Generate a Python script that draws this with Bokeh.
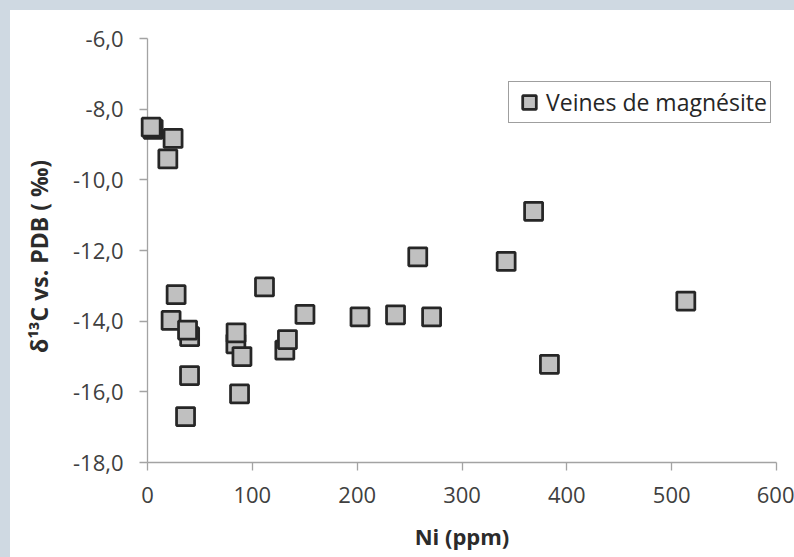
from bokeh.plotting import figure
from bokeh.models import Range1d, FixedTicker, GlobalInlineStyleSheet
from bokeh.embed import file_html
from bokeh.resources import INLINE

# Data
ni_ppm = [5.4, 3.5, 24.4, 19.4, 27.3, 22.5, 40.2, 38.2, 84.3, 84.5, 90.1, 40.1, 87.8,
          36.3, 111.6, 131.0, 133.5, 150.2, 202.7, 236.6, 257.8, 271.0, 342.1, 368.3,
          383.4, 513.5]
delta13c = [-8.57, -8.51, -8.83, -9.41, -13.25, -13.98, -14.44, -14.25, -14.64, -14.33,
            -15.0, -15.54, -16.06, -16.7, -13.03, -14.82, -14.52, -13.81, -13.88, -13.82,
            -12.18, -13.88, -12.31, -10.89, -15.22, -13.43]
series_name = "Veines de magnésite"

x_ticks = [0, 100, 200, 300, 400, 500, 600]
y_ticks = [-18, -16, -14, -12, -10, -8, -6]
y_tick_labels = ["-18,0", "-16,0", "-14,0", "-12,0", "-10,0", "-8,0", "-6,0"]

x_label = "Ni (ppm)"
y_label = "δ¹³C  vs. PDB (  ‰)"

FONT = "Open Sans"

p = figure(width=784, height=547, output_backend="svg", toolbar_location=None,
           x_range=Range1d(0, 600), y_range=Range1d(-18, -6),
           min_border_left=137, min_border_right=18, min_border_top=28,
           min_border_bottom=95)
p.stylesheets = [GlobalInlineStyleSheet(
    css="html{background:#cfd9e2;} body{margin:10px 0 0 10px;background:#ffffff;overflow:hidden;}")]

p.background_fill_color = "white"
p.border_fill_color = "white"
p.outline_line_color = None
p.xgrid.visible = False
p.ygrid.visible = False

p.xaxis.ticker = FixedTicker(ticks=x_ticks)
p.yaxis.ticker = FixedTicker(ticks=y_ticks)
p.yaxis.major_label_overrides = {t: l for t, l in zip(y_ticks, y_tick_labels)}

for ax in (p.xaxis, p.yaxis):
    ax.axis_line_color = "#a3a3a3"
    ax.axis_line_width = 1.3
    ax.major_tick_line_color = "#a3a3a3"
    ax.major_tick_line_width = 1.3
    ax.major_tick_in = 0
    ax.major_tick_out = 8
    ax.minor_tick_line_color = None
    ax.major_label_text_font = FONT
    ax.major_label_text_font_size = "22px"
    ax.major_label_text_color = "#404040"
    ax.axis_label_text_font = FONT
    ax.axis_label_text_font_style = "bold"
    ax.axis_label_text_color = "#2b2b2b"

p.xaxis.axis_label = x_label
p.yaxis.axis_label = y_label
p.xaxis.axis_label_text_font_size = "22px"
p.yaxis.axis_label_text_font_size = "23px"
p.xaxis.major_label_standoff = 16
p.yaxis.major_label_standoff = 16
p.xaxis.axis_label_standoff = 15
p.yaxis.axis_label_standoff = 15

p.scatter(ni_ppm, delta13c, marker="square", size=18, fill_color="#c0c0c0",
          line_color="#262626", line_width=2.75, legend_label=series_name,
          level="overlay")

lg = p.legend[0]
lg.location = (361, 339)
lg.margin = 0
lg.padding = 3
lg.spacing = 0
lg.glyph_width = 34
lg.glyph_height = 34
lg.label_standoff = -2
lg.border_line_color = "#404040"
lg.border_line_width = 1.3
lg.background_fill_color = "white"
lg.background_fill_alpha = 1.0
lg.label_text_font = FONT
lg.label_text_font_size = "23px"
lg.label_text_color = "#262626"

open("out.html", "w").write(file_html(p, INLINE))
